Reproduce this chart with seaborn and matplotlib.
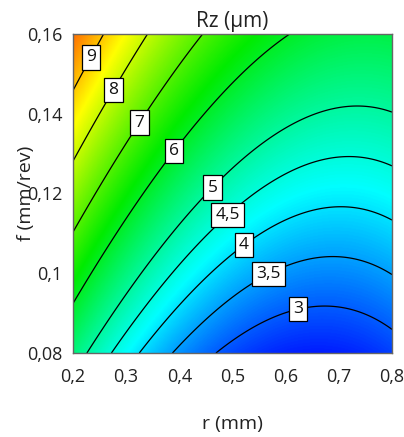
import numpy as np
import matplotlib
matplotlib.use("Agg")
import matplotlib.pyplot as plt
from matplotlib.colors import LinearSegmentedColormap, Normalize
import seaborn as sns

# Surface roughness Rz (µm) versus nose radius r (mm) and feed f (mm/rev).
# Points lying on the iso-Rz curves; a full quadratic response model is fitted to them.
iso_rz = [9, 9,
          8, 8, 8,
          7, 7, 7, 7,
          6, 6, 6, 6, 6,
          5, 5, 5, 5,
          4.5, 4.5, 4.5, 4.5, 4.5,
          4, 4, 4, 4,
          3.5, 3.5, 3.5, 3.5,
          3, 3, 3, 3]
iso_r = [0.2602, 0.2000,
         0.3429, 0.2696, 0.2000,
         0.4483, 0.3185, 0.2451, 0.2000,
         0.6081, 0.5047, 0.3824, 0.3373, 0.2000,
         0.8000, 0.7398, 0.4953, 0.2226,
         0.8000, 0.7172, 0.5461, 0.4708, 0.2733,
         0.8000, 0.7022, 0.4953, 0.3223,
         0.8000, 0.6834, 0.4953, 0.3862,
         0.8000, 0.6777, 0.4953, 0.4727]
iso_f = [0.1600, 0.1452,
         0.1600, 0.1465, 0.1271,
         0.1600, 0.1384, 0.1204, 0.1101,
         0.1600, 0.1487, 0.1314, 0.1201, 0.0920,
         0.1407, 0.1419, 0.1246, 0.0800,
         0.1269, 0.1292, 0.1196, 0.1129, 0.0800,
         0.1134, 0.1164, 0.1038, 0.0800,
         0.1003, 0.1038, 0.0933, 0.0800,
         0.0863, 0.0915, 0.0828, 0.0800]

rz_levels = [3, 3.5, 4, 4.5, 5, 6, 7, 8, 9]
r_ticks = [0.2, 0.3, 0.4, 0.5, 0.6, 0.7, 0.8]
r_tick_labels = ["0,2", "0,3", "0,4", "0,5", "0,6", "0,7", "0,8"]
f_ticks = [0.08, 0.10, 0.12, 0.14, 0.16]
f_tick_labels = ["0,08", "0,1", "0,12", "0,14", "0,16"]


def quad_terms(r, f):
    r = np.asarray(r, float)
    f = np.asarray(f, float)
    return np.stack([np.ones_like(r), r, f, r * f, r ** 2, f ** 2], axis=-1)


coef, *_ = np.linalg.lstsq(quad_terms(iso_r, iso_f), np.asarray(iso_rz, float), rcond=None)

r_grid = np.linspace(r_ticks[0], r_ticks[-1], 400)
f_grid = np.linspace(f_ticks[0], f_ticks[-1], 400)
R, F = np.meshgrid(r_grid, f_grid)
Z = quad_terms(R, F) @ coef

sns.set_style("white")
plt.rcParams["font.family"] = ["Open Sans", "DejaVu Sans"]

# blue -> cyan -> green -> yellow -> red colour ramp over the Rz range
z_lo, z_hi = 2.3, 10.8
ramp = [(2.3, "#0000ff"), (4.2, "#00ffff"), (6.3, "#00ec00"), (8.5, "#ffff00"), (10.8, "#ff0000")]
cmap = LinearSegmentedColormap.from_list(
    "rz", [((v - z_lo) / (z_hi - z_lo), c) for v, c in ramp])
norm = Normalize(vmin=z_lo, vmax=z_hi)

fig = plt.figure(figsize=(4.04, 4.37), dpi=100)
ax = fig.add_axes([73 / 404, 1 - 353 / 437, 319 / 404, 319 / 437])

ax.imshow(Z, extent=[r_grid[0], r_grid[-1], f_grid[0], f_grid[-1]], origin="lower",
          cmap=cmap, norm=norm, aspect="auto", interpolation="bilinear")
cs = ax.contour(R, F, Z, levels=rz_levels, colors="black", linewidths=0.9)

label_spots = [(0.228, 0.1545), (0.270, 0.1465), (0.318, 0.1384), (0.382, 0.1314),
               (0.454, 0.1226), (0.482, 0.1159), (0.514, 0.1083), (0.561, 0.1013),
               (0.619, 0.0933)]
texts = ax.clabel(cs, manual=label_spots, inline=False, fontsize=12.5,
                  fmt=lambda v: f"{v:g}".replace(".", ","))
for t in texts:
    t.set_rotation(0)
    t.set_color("#111111")
    t.set_bbox(dict(boxstyle="square,pad=0.24", facecolor="white", edgecolor="black", linewidth=0.9))

ax.set_xlim(r_ticks[0], r_ticks[-1])
ax.set_ylim(f_ticks[0], f_ticks[-1])
ax.set_xticks(r_ticks, r_tick_labels)
ax.set_yticks(f_ticks, f_tick_labels)
ax.tick_params(axis="both", direction="out", length=6, width=1, color="#333333",
               labelsize=13, labelcolor="#222222")
ax.tick_params(axis="x", pad=5)
ax.tick_params(axis="y", pad=1.5)
for s in ax.spines.values():
    s.set_color("#666666")
    s.set_linewidth(1)

ax.set_title("Rz (µm)", fontsize=15, color="#222222", pad=5)
ax.set_xlabel("r (mm)", fontsize=14, color="#222222")
ax.set_ylabel("f (mm/rev)", fontsize=14, color="#222222")
ax.xaxis.set_label_coords(0.5, -0.195)
ax.yaxis.set_label_coords(-0.118, 0.5)

fig.savefig("out.png", dpi=100, facecolor="white")
